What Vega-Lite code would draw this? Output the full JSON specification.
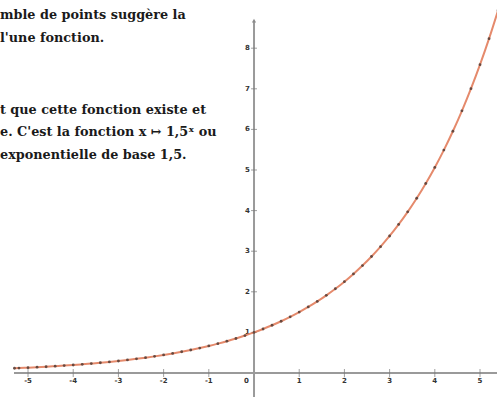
{
  "$schema": "https://vega.github.io/schema/vega-lite/v6.json",
  "width": 497,
  "height": 397,
  "autosize": {"type": "none"},
  "padding": 0,
  "background": "white",
  "config": {"view": {"stroke": null}},
  "datasets": {
    "curve": [
      {"x": -5.3, "y": 0.1166}, {"x": -5.2, "y": 0.12143}, {"x": -5.0, "y": 0.13169}, {"x": -4.8, "y": 0.14281},
      {"x": -4.6, "y": 0.15488}, {"x": -4.4, "y": 0.16796}, {"x": -4.2, "y": 0.18214}, {"x": -4.0, "y": 0.19753},
      {"x": -3.8, "y": 0.21422}, {"x": -3.6, "y": 0.23231}, {"x": -3.4, "y": 0.25194}, {"x": -3.2, "y": 0.27322},
      {"x": -3.0, "y": 0.2963}, {"x": -2.8, "y": 0.32132}, {"x": -2.6, "y": 0.34847}, {"x": -2.4, "y": 0.3779},
      {"x": -2.2, "y": 0.40983}, {"x": -2.0, "y": 0.44444}, {"x": -1.8, "y": 0.48199}, {"x": -1.6, "y": 0.52271},
      {"x": -1.4, "y": 0.56686}, {"x": -1.2, "y": 0.61474}, {"x": -1.0, "y": 0.66667}, {"x": -0.8, "y": 0.72298},
      {"x": -0.6, "y": 0.78406}, {"x": -0.4, "y": 0.85028}, {"x": -0.2, "y": 0.92211}, {"x": 0.0, "y": 1.0},
      {"x": 0.2, "y": 1.08447}, {"x": 0.4, "y": 1.17608}, {"x": 0.6, "y": 1.27542}, {"x": 0.8, "y": 1.38316},
      {"x": 1.0, "y": 1.5}, {"x": 1.2, "y": 1.62671}, {"x": 1.4, "y": 1.76412}, {"x": 1.6, "y": 1.91312},
      {"x": 1.8, "y": 2.07474}, {"x": 2.0, "y": 2.25}, {"x": 2.2, "y": 2.44006}, {"x": 2.4, "y": 2.64618},
      {"x": 2.6, "y": 2.86968}, {"x": 2.8, "y": 3.11211}, {"x": 3.0, "y": 3.375}, {"x": 3.2, "y": 3.66009},
      {"x": 3.4, "y": 3.96927}, {"x": 3.6, "y": 4.30453}, {"x": 3.8, "y": 4.66817}, {"x": 4.0, "y": 5.0625},
      {"x": 4.2, "y": 5.49014}, {"x": 4.4, "y": 5.9539}, {"x": 4.6, "y": 6.45679}, {"x": 4.8, "y": 7.00225},
      {"x": 5.0, "y": 7.59375}, {"x": 5.2, "y": 8.23521}, {"x": 5.4, "y": 8.93085}
    ],
    "axes": [
      {"x1": -5.31, "x2": 5.376, "y1": 0, "y2": 0},
      {"x1": 0, "x2": 0, "y1": -0.59, "y2": 8.66}
    ],
    "arrow": [{"x": 0, "y": 8.68}],
    "xticks": [
      {"v": -5, "label": "-5"}, {"v": -4, "label": "-4"}, {"v": -3, "label": "-3"}, {"v": -2, "label": "-2"},
      {"v": -1, "label": "-1"}, {"v": 1, "label": "1"}, {"v": 2, "label": "2"}, {"v": 3, "label": "3"},
      {"v": 4, "label": "4"}, {"v": 5, "label": "5"}
    ],
    "yticks": [
      {"v": 1, "label": "1"}, {"v": 2, "label": "2"}, {"v": 3, "label": "3"}, {"v": 4, "label": "4"},
      {"v": 5, "label": "5"}, {"v": 6, "label": "6"}, {"v": 7, "label": "7"}, {"v": 8, "label": "8"}
    ],
    "origin": [{"x": -0.17, "y": -0.2, "label": "0"}],
    "texts": [
      {"x": -5.62, "y": 8.82, "t": "mble de points suggère la"},
      {"x": -5.62, "y": 8.25, "t": "l'une fonction."},
      {"x": -5.62, "y": 6.48, "t": "t que cette fonction existe et"},
      {"x": -5.62, "y": 5.94, "t": "e. C'est la fonction  x ↦ 1,5ˣ  ou"},
      {"x": -5.62, "y": 5.37, "t": "exponentielle de base 1,5."}
    ]
  },
  "encoding": {},
  "layer": [
    {
      "data": {"name": "axes"},
      "mark": {"type": "rule", "color": "#9a9a9a", "strokeWidth": 2},
      "encoding": {
        "x": {"field": "x1", "type": "quantitative", "scale": {"domain": [-5.62, 5.376], "nice": false, "zero": false}, "axis": null},
        "x2": {"field": "x2"},
        "y": {"field": "y1", "type": "quantitative", "scale": {"domain": [-0.591, 9.187], "nice": false, "zero": false}, "axis": null},
        "y2": {"field": "y2"}
      }
    },
    {
      "data": {"name": "arrow"},
      "mark": {"type": "point", "shape": "triangle-up", "filled": true, "color": "#8a8a8a", "size": 18, "opacity": 1},
      "encoding": {
        "x": {"field": "x", "type": "quantitative", "scale": {"domain": [-5.62, 5.376], "nice": false, "zero": false}, "axis": null},
        "y": {"field": "y", "type": "quantitative", "scale": {"domain": [-0.591, 9.187], "nice": false, "zero": false}, "axis": null}
      }
    },
    {
      "data": {"name": "xticks"},
      "transform": [{"calculate": "0", "as": "zero"}],
      "mark": {"type": "tick", "orient": "vertical", "color": "#777", "size": 8, "thickness": 1},
      "encoding": {
        "x": {"field": "v", "type": "quantitative", "scale": {"domain": [-5.62, 5.376], "nice": false, "zero": false}, "axis": null},
        "y": {"field": "zero", "type": "quantitative", "scale": {"domain": [-0.591, 9.187], "nice": false, "zero": false}, "axis": null}
      }
    },
    {
      "data": {"name": "xticks"},
      "transform": [{"calculate": "-0.2", "as": "ly"}],
      "mark": {"type": "text", "font": "DejaVu Sans", "fontWeight": "bold", "fontSize": 7, "color": "#333", "baseline": "middle", "align": "center"},
      "encoding": {
        "x": {"field": "v", "type": "quantitative", "scale": {"domain": [-5.62, 5.376], "nice": false, "zero": false}, "axis": null},
        "y": {"field": "ly", "type": "quantitative", "scale": {"domain": [-0.591, 9.187], "nice": false, "zero": false}, "axis": null},
        "text": {"field": "label"}
      }
    },
    {
      "data": {"name": "yticks"},
      "transform": [{"calculate": "0", "as": "zero"}],
      "mark": {"type": "tick", "orient": "horizontal", "color": "#777", "size": 6, "thickness": 1},
      "encoding": {
        "x": {"field": "zero", "type": "quantitative", "scale": {"domain": [-5.62, 5.376], "nice": false, "zero": false}, "axis": null},
        "y": {"field": "v", "type": "quantitative", "scale": {"domain": [-0.591, 9.187], "nice": false, "zero": false}, "axis": null}
      }
    },
    {
      "data": {"name": "yticks"},
      "transform": [{"calculate": "-0.09", "as": "lx"}],
      "mark": {"type": "text", "font": "DejaVu Sans", "fontWeight": "bold", "fontSize": 7, "color": "#333", "baseline": "middle", "align": "right"},
      "encoding": {
        "x": {"field": "lx", "type": "quantitative", "scale": {"domain": [-5.62, 5.376], "nice": false, "zero": false}, "axis": null},
        "y": {"field": "v", "type": "quantitative", "scale": {"domain": [-0.591, 9.187], "nice": false, "zero": false}, "axis": null},
        "text": {"field": "label"}
      }
    },
    {
      "data": {"name": "origin"},
      "mark": {"type": "text", "font": "DejaVu Sans", "fontWeight": "bold", "fontSize": 7, "color": "#333", "baseline": "middle", "align": "center"},
      "encoding": {
        "x": {"field": "x", "type": "quantitative", "scale": {"domain": [-5.62, 5.376], "nice": false, "zero": false}, "axis": null},
        "y": {"field": "y", "type": "quantitative", "scale": {"domain": [-0.591, 9.187], "nice": false, "zero": false}, "axis": null},
        "text": {"field": "label"}
      }
    },
    {
      "data": {"name": "curve"},
      "mark": {"type": "line", "color": "#e58a6c", "strokeWidth": 2, "interpolate": "monotone"},
      "encoding": {
        "x": {"field": "x", "type": "quantitative", "scale": {"domain": [-5.62, 5.376], "nice": false, "zero": false}, "axis": null},
        "y": {"field": "y", "type": "quantitative", "scale": {"domain": [-0.591, 9.187], "nice": false, "zero": false}, "axis": null}
      }
    },
    {
      "data": {"name": "curve"},
      "mark": {"type": "point", "filled": true, "color": "#5a4038", "size": 8, "opacity": 0.9},
      "encoding": {
        "x": {"field": "x", "type": "quantitative", "scale": {"domain": [-5.62, 5.376], "nice": false, "zero": false}, "axis": null},
        "y": {"field": "y", "type": "quantitative", "scale": {"domain": [-0.591, 9.187], "nice": false, "zero": false}, "axis": null}
      }
    },
    {
      "data": {"name": "texts"},
      "mark": {"type": "text", "font": "DejaVu Serif", "fontWeight": "bold", "fontSize": 12.8, "color": "#1a1a1a", "baseline": "middle", "align": "left"},
      "encoding": {
        "x": {"field": "x", "type": "quantitative", "scale": {"domain": [-5.62, 5.376], "nice": false, "zero": false}, "axis": null},
        "y": {"field": "y", "type": "quantitative", "scale": {"domain": [-0.591, 9.187], "nice": false, "zero": false}, "axis": null},
        "text": {"field": "t"}
      }
    }
  ]
}
